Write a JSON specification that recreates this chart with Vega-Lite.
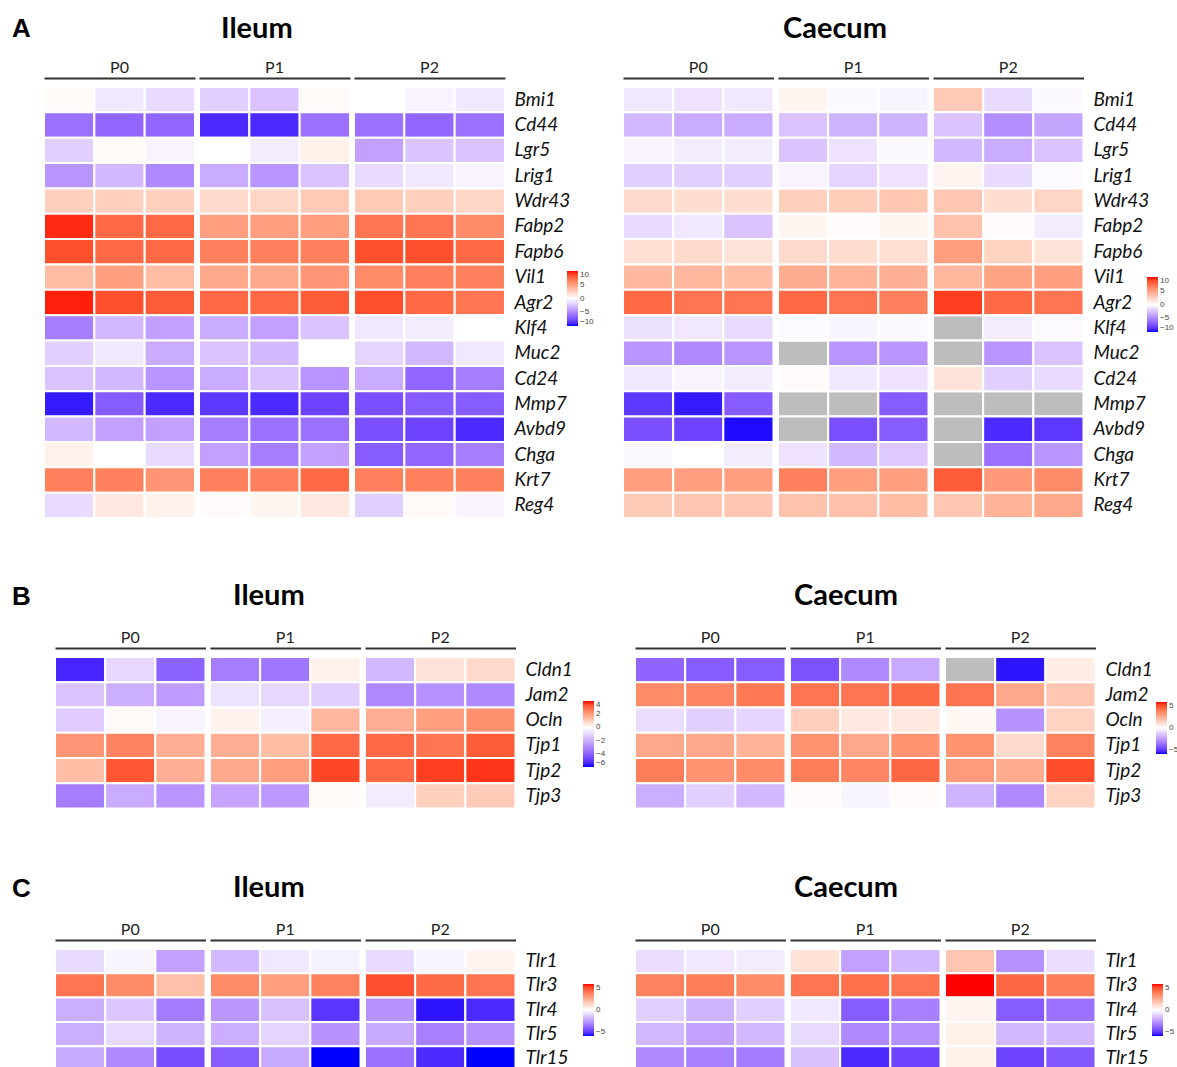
{
 "$schema": "https://vega.github.io/schema/vega-lite/v6.json",
 "padding": {"left": 12, "top": 15, "right": 0, "bottom": 0},
 "background": "white",
 "config": {
  "view": {"stroke": null},
  "font": "Lato",
  "header": {"labelFont": "Lato", "labelFontSize": 16, "labelColor": "#222", "title": null, "labelPadding": 2},
  "legend": {"labelFont": "Liberation Sans", "labelFontSize": 8, "labelColor": "#444", "gradientStrokeWidth": 0, "labelOffset": 2, "title": null, "direction": "vertical", "gradientThickness": 11}
 },
 "datasets": {
  "aI": [
   {"g":"Bmi1","s":"P0","r":"1","v":0.3},{"g":"Bmi1","s":"P0","r":"2","v":-1},{"g":"Bmi1","s":"P0","r":"3","v":-1.5},{"g":"Bmi1","s":"P1","r":"1","v":-2},{"g":"Bmi1","s":"P1","r":"2","v":-2.5},{"g":"Bmi1","s":"P1","r":"3","v":0.3},{"g":"Bmi1","s":"P2","r":"1","v":0},{"g":"Bmi1","s":"P2","r":"2","v":-0.5},{"g":"Bmi1","s":"P2","r":"3","v":-1},
   {"g":"Cd44","s":"P0","r":"1","v":-6},{"g":"Cd44","s":"P0","r":"2","v":-6.5},{"g":"Cd44","s":"P0","r":"3","v":-6.5},{"g":"Cd44","s":"P1","r":"1","v":-9},{"g":"Cd44","s":"P1","r":"2","v":-9},{"g":"Cd44","s":"P1","r":"3","v":-6},{"g":"Cd44","s":"P2","r":"1","v":-6},{"g":"Cd44","s":"P2","r":"2","v":-6.5},{"g":"Cd44","s":"P2","r":"3","v":-6},
   {"g":"Lgr5","s":"P0","r":"1","v":-2},{"g":"Lgr5","s":"P0","r":"2","v":0.3},{"g":"Lgr5","s":"P0","r":"3","v":-0.5},{"g":"Lgr5","s":"P1","r":"1","v":0},{"g":"Lgr5","s":"P1","r":"2","v":-0.8},{"g":"Lgr5","s":"P1","r":"3","v":0.8},{"g":"Lgr5","s":"P2","r":"1","v":-4},{"g":"Lgr5","s":"P2","r":"2","v":-2.5},{"g":"Lgr5","s":"P2","r":"3","v":-2.5},
   {"g":"Lrig1","s":"P0","r":"1","v":-4.5},{"g":"Lrig1","s":"P0","r":"2","v":-3},{"g":"Lrig1","s":"P0","r":"3","v":-5},{"g":"Lrig1","s":"P1","r":"1","v":-3.5},{"g":"Lrig1","s":"P1","r":"2","v":-4.5},{"g":"Lrig1","s":"P1","r":"3","v":-2.5},{"g":"Lrig1","s":"P2","r":"1","v":-1.5},{"g":"Lrig1","s":"P2","r":"2","v":-1},{"g":"Lrig1","s":"P2","r":"3","v":-0.5},
   {"g":"Wdr43","s":"P0","r":"1","v":2.5},{"g":"Wdr43","s":"P0","r":"2","v":2.5},{"g":"Wdr43","s":"P0","r":"3","v":2.5},{"g":"Wdr43","s":"P1","r":"1","v":2},{"g":"Wdr43","s":"P1","r":"2","v":2.2},{"g":"Wdr43","s":"P1","r":"3","v":2.8},{"g":"Wdr43","s":"P2","r":"1","v":2.8},{"g":"Wdr43","s":"P2","r":"2","v":2.5},{"g":"Wdr43","s":"P2","r":"3","v":2.2},
   {"g":"Fabp2","s":"P0","r":"1","v":9.5},{"g":"Fabp2","s":"P0","r":"2","v":7.5},{"g":"Fabp2","s":"P0","r":"3","v":7.5},{"g":"Fabp2","s":"P1","r":"1","v":5},{"g":"Fabp2","s":"P1","r":"2","v":5},{"g":"Fabp2","s":"P1","r":"3","v":5},{"g":"Fabp2","s":"P2","r":"1","v":7},{"g":"Fabp2","s":"P2","r":"2","v":7},{"g":"Fabp2","s":"P2","r":"3","v":6},
   {"g":"Fapb6","s":"P0","r":"1","v":8.5},{"g":"Fapb6","s":"P0","r":"2","v":7.5},{"g":"Fapb6","s":"P0","r":"3","v":7.5},{"g":"Fapb6","s":"P1","r":"1","v":6.5},{"g":"Fapb6","s":"P1","r":"2","v":6.5},{"g":"Fapb6","s":"P1","r":"3","v":6.5},{"g":"Fapb6","s":"P2","r":"1","v":8.5},{"g":"Fapb6","s":"P2","r":"2","v":8.5},{"g":"Fapb6","s":"P2","r":"3","v":7.5},
   {"g":"Vil1","s":"P0","r":"1","v":3.5},{"g":"Vil1","s":"P0","r":"2","v":5},{"g":"Vil1","s":"P0","r":"3","v":3.5},{"g":"Vil1","s":"P1","r":"1","v":4.5},{"g":"Vil1","s":"P1","r":"2","v":4.5},{"g":"Vil1","s":"P1","r":"3","v":5.5},{"g":"Vil1","s":"P2","r":"1","v":6},{"g":"Vil1","s":"P2","r":"2","v":6.5},{"g":"Vil1","s":"P2","r":"3","v":6.5},
   {"g":"Agr2","s":"P0","r":"1","v":9.7},{"g":"Agr2","s":"P0","r":"2","v":8.5},{"g":"Agr2","s":"P0","r":"3","v":8},{"g":"Agr2","s":"P1","r":"1","v":7.5},{"g":"Agr2","s":"P1","r":"2","v":7.5},{"g":"Agr2","s":"P1","r":"3","v":8},{"g":"Agr2","s":"P2","r":"1","v":8.5},{"g":"Agr2","s":"P2","r":"2","v":7.5},{"g":"Agr2","s":"P2","r":"3","v":7},
   {"g":"Klf4","s":"P0","r":"1","v":-5.5},{"g":"Klf4","s":"P0","r":"2","v":-3},{"g":"Klf4","s":"P0","r":"3","v":-4},{"g":"Klf4","s":"P1","r":"1","v":-3.5},{"g":"Klf4","s":"P1","r":"2","v":-4},{"g":"Klf4","s":"P1","r":"3","v":-2.5},{"g":"Klf4","s":"P2","r":"1","v":-1},{"g":"Klf4","s":"P2","r":"2","v":-0.8},{"g":"Klf4","s":"P2","r":"3","v":0},
   {"g":"Muc2","s":"P0","r":"1","v":-2},{"g":"Muc2","s":"P0","r":"2","v":-1},{"g":"Muc2","s":"P0","r":"3","v":-3.5},{"g":"Muc2","s":"P1","r":"1","v":-2.5},{"g":"Muc2","s":"P1","r":"2","v":-3},{"g":"Muc2","s":"P1","r":"3","v":0},{"g":"Muc2","s":"P2","r":"1","v":-1.8},{"g":"Muc2","s":"P2","r":"2","v":-3},{"g":"Muc2","s":"P2","r":"3","v":-1},
   {"g":"Cd24","s":"P0","r":"1","v":-2.5},{"g":"Cd24","s":"P0","r":"2","v":-3},{"g":"Cd24","s":"P0","r":"3","v":-4.5},{"g":"Cd24","s":"P1","r":"1","v":-3.5},{"g":"Cd24","s":"P1","r":"2","v":-2.5},{"g":"Cd24","s":"P1","r":"3","v":-4.5},{"g":"Cd24","s":"P2","r":"1","v":-3.5},{"g":"Cd24","s":"P2","r":"2","v":-6.5},{"g":"Cd24","s":"P2","r":"3","v":-5.5},
   {"g":"Mmp7","s":"P0","r":"1","v":-9.5},{"g":"Mmp7","s":"P0","r":"2","v":-7},{"g":"Mmp7","s":"P0","r":"3","v":-9},{"g":"Mmp7","s":"P1","r":"1","v":-8.5},{"g":"Mmp7","s":"P1","r":"2","v":-9},{"g":"Mmp7","s":"P1","r":"3","v":-8},{"g":"Mmp7","s":"P2","r":"1","v":-7.5},{"g":"Mmp7","s":"P2","r":"2","v":-7},{"g":"Mmp7","s":"P2","r":"3","v":-7},
   {"g":"Avbd9","s":"P0","r":"1","v":-3},{"g":"Avbd9","s":"P0","r":"2","v":-4},{"g":"Avbd9","s":"P0","r":"3","v":-4},{"g":"Avbd9","s":"P1","r":"1","v":-5.5},{"g":"Avbd9","s":"P1","r":"2","v":-6},{"g":"Avbd9","s":"P1","r":"3","v":-6},{"g":"Avbd9","s":"P2","r":"1","v":-7.5},{"g":"Avbd9","s":"P2","r":"2","v":-8},{"g":"Avbd9","s":"P2","r":"3","v":-9},
   {"g":"Chga","s":"P0","r":"1","v":0.7},{"g":"Chga","s":"P0","r":"2","v":0},{"g":"Chga","s":"P0","r":"3","v":-1.5},{"g":"Chga","s":"P1","r":"1","v":-4},{"g":"Chga","s":"P1","r":"2","v":-5.5},{"g":"Chga","s":"P1","r":"3","v":-4},{"g":"Chga","s":"P2","r":"1","v":-7},{"g":"Chga","s":"P2","r":"2","v":-6.5},{"g":"Chga","s":"P2","r":"3","v":-5.5},
   {"g":"Krt7","s":"P0","r":"1","v":6.5},{"g":"Krt7","s":"P0","r":"2","v":6.5},{"g":"Krt7","s":"P0","r":"3","v":5.5},{"g":"Krt7","s":"P1","r":"1","v":6.5},{"g":"Krt7","s":"P1","r":"2","v":6.5},{"g":"Krt7","s":"P1","r":"3","v":7.5},{"g":"Krt7","s":"P2","r":"1","v":6.5},{"g":"Krt7","s":"P2","r":"2","v":6.5},{"g":"Krt7","s":"P2","r":"3","v":6.5},
   {"g":"Reg4","s":"P0","r":"1","v":-1.5},{"g":"Reg4","s":"P0","r":"2","v":1.2},{"g":"Reg4","s":"P0","r":"3","v":0.7},{"g":"Reg4","s":"P1","r":"1","v":0.2},{"g":"Reg4","s":"P1","r":"2","v":0.5},{"g":"Reg4","s":"P1","r":"3","v":1.2},{"g":"Reg4","s":"P2","r":"1","v":-2},{"g":"Reg4","s":"P2","r":"2","v":0.3},{"g":"Reg4","s":"P2","r":"3","v":-0.5}
  ],
  "aC": [
   {"g":"Bmi1","s":"P0","r":"1","v":-1},{"g":"Bmi1","s":"P0","r":"2","v":-1.2},{"g":"Bmi1","s":"P0","r":"3","v":-1},{"g":"Bmi1","s":"P1","r":"1","v":0.5},{"g":"Bmi1","s":"P1","r":"2","v":-0.3},{"g":"Bmi1","s":"P1","r":"3","v":-0.4},{"g":"Bmi1","s":"P2","r":"1","v":2.8},{"g":"Bmi1","s":"P2","r":"2","v":-1.5},{"g":"Bmi1","s":"P2","r":"3","v":-0.3},
   {"g":"Cd44","s":"P0","r":"1","v":-3},{"g":"Cd44","s":"P0","r":"2","v":-3.5},{"g":"Cd44","s":"P0","r":"3","v":-3.5},{"g":"Cd44","s":"P1","r":"1","v":-2.5},{"g":"Cd44","s":"P1","r":"2","v":-3.2},{"g":"Cd44","s":"P1","r":"3","v":-3.2},{"g":"Cd44","s":"P2","r":"1","v":-2.5},{"g":"Cd44","s":"P2","r":"2","v":-4.8},{"g":"Cd44","s":"P2","r":"3","v":-3.8},
   {"g":"Lgr5","s":"P0","r":"1","v":-0.5},{"g":"Lgr5","s":"P0","r":"2","v":-0.8},{"g":"Lgr5","s":"P0","r":"3","v":-0.8},{"g":"Lgr5","s":"P1","r":"1","v":-2.5},{"g":"Lgr5","s":"P1","r":"2","v":-1.2},{"g":"Lgr5","s":"P1","r":"3","v":-0.3},{"g":"Lgr5","s":"P2","r":"1","v":-3},{"g":"Lgr5","s":"P2","r":"2","v":-3.5},{"g":"Lgr5","s":"P2","r":"3","v":-2.5},
   {"g":"Lrig1","s":"P0","r":"1","v":-2},{"g":"Lrig1","s":"P0","r":"2","v":-2},{"g":"Lrig1","s":"P0","r":"3","v":-2},{"g":"Lrig1","s":"P1","r":"1","v":-0.5},{"g":"Lrig1","s":"P1","r":"2","v":-1.8},{"g":"Lrig1","s":"P1","r":"3","v":-1.2},{"g":"Lrig1","s":"P2","r":"1","v":0.6},{"g":"Lrig1","s":"P2","r":"2","v":-1.5},{"g":"Lrig1","s":"P2","r":"3","v":-0.2},
   {"g":"Wdr43","s":"P0","r":"1","v":2},{"g":"Wdr43","s":"P0","r":"2","v":1.8},{"g":"Wdr43","s":"P0","r":"3","v":1.8},{"g":"Wdr43","s":"P1","r":"1","v":2.5},{"g":"Wdr43","s":"P1","r":"2","v":2.7},{"g":"Wdr43","s":"P1","r":"3","v":3},{"g":"Wdr43","s":"P2","r":"1","v":3},{"g":"Wdr43","s":"P2","r":"2","v":1.8},{"g":"Wdr43","s":"P2","r":"3","v":2.2},
   {"g":"Fabp2","s":"P0","r":"1","v":-1.5},{"g":"Fabp2","s":"P0","r":"2","v":-1},{"g":"Fabp2","s":"P0","r":"3","v":-2.5},{"g":"Fabp2","s":"P1","r":"1","v":0.5},{"g":"Fabp2","s":"P1","r":"2","v":0.2},{"g":"Fabp2","s":"P1","r":"3","v":0.5},{"g":"Fabp2","s":"P2","r":"1","v":3.2},{"g":"Fabp2","s":"P2","r":"2","v":0.2},{"g":"Fabp2","s":"P2","r":"3","v":-0.8},
   {"g":"Fapb6","s":"P0","r":"1","v":1.7},{"g":"Fapb6","s":"P0","r":"2","v":2},{"g":"Fapb6","s":"P0","r":"3","v":1.5},{"g":"Fapb6","s":"P1","r":"1","v":2},{"g":"Fapb6","s":"P1","r":"2","v":1.8},{"g":"Fapb6","s":"P1","r":"3","v":1.7},{"g":"Fapb6","s":"P2","r":"1","v":5},{"g":"Fapb6","s":"P2","r":"2","v":2.3},{"g":"Fapb6","s":"P2","r":"3","v":1.5},
   {"g":"Vil1","s":"P0","r":"1","v":3.7},{"g":"Vil1","s":"P0","r":"2","v":3.8},{"g":"Vil1","s":"P0","r":"3","v":3.5},{"g":"Vil1","s":"P1","r":"1","v":4.3},{"g":"Vil1","s":"P1","r":"2","v":4},{"g":"Vil1","s":"P1","r":"3","v":4.2},{"g":"Vil1","s":"P2","r":"1","v":3.8},{"g":"Vil1","s":"P2","r":"2","v":4.8},{"g":"Vil1","s":"P2","r":"3","v":5},
   {"g":"Agr2","s":"P0","r":"1","v":7.5},{"g":"Agr2","s":"P0","r":"2","v":7},{"g":"Agr2","s":"P0","r":"3","v":7},{"g":"Agr2","s":"P1","r":"1","v":7.5},{"g":"Agr2","s":"P1","r":"2","v":7},{"g":"Agr2","s":"P1","r":"3","v":6.5},{"g":"Agr2","s":"P2","r":"1","v":9},{"g":"Agr2","s":"P2","r":"2","v":7.5},{"g":"Agr2","s":"P2","r":"3","v":7},
   {"g":"Klf4","s":"P0","r":"1","v":-1.3},{"g":"Klf4","s":"P0","r":"2","v":-1},{"g":"Klf4","s":"P0","r":"3","v":-1.5},{"g":"Klf4","s":"P1","r":"1","v":-0.2},{"g":"Klf4","s":"P1","r":"2","v":-0.4},{"g":"Klf4","s":"P1","r":"3","v":-0.3},{"g":"Klf4","s":"P2","r":"1","v":null},{"g":"Klf4","s":"P2","r":"2","v":-0.8},{"g":"Klf4","s":"P2","r":"3","v":-0.2},
   {"g":"Muc2","s":"P0","r":"1","v":-4.5},{"g":"Muc2","s":"P0","r":"2","v":-5},{"g":"Muc2","s":"P0","r":"3","v":-4.5},{"g":"Muc2","s":"P1","r":"1","v":null},{"g":"Muc2","s":"P1","r":"2","v":-4.5},{"g":"Muc2","s":"P1","r":"3","v":-4.5},{"g":"Muc2","s":"P2","r":"1","v":null},{"g":"Muc2","s":"P2","r":"2","v":-4.5},{"g":"Muc2","s":"P2","r":"3","v":-2.5},
   {"g":"Cd24","s":"P0","r":"1","v":-1},{"g":"Cd24","s":"P0","r":"2","v":-0.5},{"g":"Cd24","s":"P0","r":"3","v":-0.8},{"g":"Cd24","s":"P1","r":"1","v":0.2},{"g":"Cd24","s":"P1","r":"2","v":-1},{"g":"Cd24","s":"P1","r":"3","v":-1.2},{"g":"Cd24","s":"P2","r":"1","v":1.5},{"g":"Cd24","s":"P2","r":"2","v":-2},{"g":"Cd24","s":"P2","r":"3","v":-1.5},
   {"g":"Mmp7","s":"P0","r":"1","v":-8.5},{"g":"Mmp7","s":"P0","r":"2","v":-9.5},{"g":"Mmp7","s":"P0","r":"3","v":-7},{"g":"Mmp7","s":"P1","r":"1","v":null},{"g":"Mmp7","s":"P1","r":"2","v":null},{"g":"Mmp7","s":"P1","r":"3","v":-7},{"g":"Mmp7","s":"P2","r":"1","v":null},{"g":"Mmp7","s":"P2","r":"2","v":null},{"g":"Mmp7","s":"P2","r":"3","v":null},
   {"g":"Avbd9","s":"P0","r":"1","v":-7.5},{"g":"Avbd9","s":"P0","r":"2","v":-8},{"g":"Avbd9","s":"P0","r":"3","v":-9.8},{"g":"Avbd9","s":"P1","r":"1","v":null},{"g":"Avbd9","s":"P1","r":"2","v":-7.5},{"g":"Avbd9","s":"P1","r":"3","v":-7},{"g":"Avbd9","s":"P2","r":"1","v":null},{"g":"Avbd9","s":"P2","r":"2","v":-9},{"g":"Avbd9","s":"P2","r":"3","v":-8.5},
   {"g":"Chga","s":"P0","r":"1","v":-0.3},{"g":"Chga","s":"P0","r":"2","v":0},{"g":"Chga","s":"P0","r":"3","v":-0.8},{"g":"Chga","s":"P1","r":"1","v":-1.2},{"g":"Chga","s":"P1","r":"2","v":-3},{"g":"Chga","s":"P1","r":"3","v":-2.3},{"g":"Chga","s":"P2","r":"1","v":null},{"g":"Chga","s":"P2","r":"2","v":-6},{"g":"Chga","s":"P2","r":"3","v":-4.5},
   {"g":"Krt7","s":"P0","r":"1","v":5},{"g":"Krt7","s":"P0","r":"2","v":5},{"g":"Krt7","s":"P0","r":"3","v":5},{"g":"Krt7","s":"P1","r":"1","v":6.5},{"g":"Krt7","s":"P1","r":"2","v":5},{"g":"Krt7","s":"P1","r":"3","v":5},{"g":"Krt7","s":"P2","r":"1","v":8},{"g":"Krt7","s":"P2","r":"2","v":5.3},{"g":"Krt7","s":"P2","r":"3","v":6},
   {"g":"Reg4","s":"P0","r":"1","v":2.8},{"g":"Reg4","s":"P0","r":"2","v":3},{"g":"Reg4","s":"P0","r":"3","v":3},{"g":"Reg4","s":"P1","r":"1","v":3.2},{"g":"Reg4","s":"P1","r":"2","v":3.3},{"g":"Reg4","s":"P1","r":"3","v":3.5},{"g":"Reg4","s":"P2","r":"1","v":3},{"g":"Reg4","s":"P2","r":"2","v":4},{"g":"Reg4","s":"P2","r":"3","v":4.5}
  ],
  "bI": [
   {"g":"Cldn1","s":"P0","r":"1","v":-5.5},{"g":"Cldn1","s":"P0","r":"2","v":-1},{"g":"Cldn1","s":"P0","r":"3","v":-4},{"g":"Cldn1","s":"P1","r":"1","v":-3.3},{"g":"Cldn1","s":"P1","r":"2","v":-3.5},{"g":"Cldn1","s":"P1","r":"3","v":0.3},{"g":"Cldn1","s":"P2","r":"1","v":-1.8},{"g":"Cldn1","s":"P2","r":"2","v":0.6},{"g":"Cldn1","s":"P2","r":"3","v":0.8},
   {"g":"Jam2","s":"P0","r":"1","v":-1.5},{"g":"Jam2","s":"P0","r":"2","v":-2},{"g":"Jam2","s":"P0","r":"3","v":-2.5},{"g":"Jam2","s":"P1","r":"1","v":-0.7},{"g":"Jam2","s":"P1","r":"2","v":-1},{"g":"Jam2","s":"P1","r":"3","v":-1.2},{"g":"Jam2","s":"P2","r":"1","v":-3},{"g":"Jam2","s":"P2","r":"2","v":-2.8},{"g":"Jam2","s":"P2","r":"3","v":-3},
   {"g":"Ocln","s":"P0","r":"1","v":-1.3},{"g":"Ocln","s":"P0","r":"2","v":0.1},{"g":"Ocln","s":"P0","r":"3","v":-0.3},{"g":"Ocln","s":"P1","r":"1","v":0.3},{"g":"Ocln","s":"P1","r":"2","v":-0.4},{"g":"Ocln","s":"P1","r":"3","v":1.5},{"g":"Ocln","s":"P2","r":"1","v":1.7},{"g":"Ocln","s":"P2","r":"2","v":2},{"g":"Ocln","s":"P2","r":"3","v":2.3},
   {"g":"Tjp1","s":"P0","r":"1","v":2.2},{"g":"Tjp1","s":"P0","r":"2","v":2.5},{"g":"Tjp1","s":"P0","r":"3","v":1.7},{"g":"Tjp1","s":"P1","r":"1","v":1.7},{"g":"Tjp1","s":"P1","r":"2","v":1.4},{"g":"Tjp1","s":"P1","r":"3","v":3},{"g":"Tjp1","s":"P2","r":"1","v":3},{"g":"Tjp1","s":"P2","r":"2","v":2.8},{"g":"Tjp1","s":"P2","r":"3","v":3.2},
   {"g":"Tjp2","s":"P0","r":"1","v":1.4},{"g":"Tjp2","s":"P0","r":"2","v":3.3},{"g":"Tjp2","s":"P0","r":"3","v":1.7},{"g":"Tjp2","s":"P1","r":"1","v":1.8},{"g":"Tjp2","s":"P1","r":"2","v":2},{"g":"Tjp2","s":"P1","r":"3","v":3.5},{"g":"Tjp2","s":"P2","r":"1","v":3},{"g":"Tjp2","s":"P2","r":"2","v":3.6},{"g":"Tjp2","s":"P2","r":"3","v":3.7},
   {"g":"Tjp3","s":"P0","r":"1","v":-3.3},{"g":"Tjp3","s":"P0","r":"2","v":-2.1},{"g":"Tjp3","s":"P0","r":"3","v":-2.7},{"g":"Tjp3","s":"P1","r":"1","v":-2.3},{"g":"Tjp3","s":"P1","r":"2","v":-2.6},{"g":"Tjp3","s":"P1","r":"3","v":0.1},{"g":"Tjp3","s":"P2","r":"1","v":-0.5},{"g":"Tjp3","s":"P2","r":"2","v":1},{"g":"Tjp3","s":"P2","r":"3","v":1.1}
  ],
  "bC": [
   {"g":"Cldn1","s":"P0","r":"1","v":-3.3},{"g":"Cldn1","s":"P0","r":"2","v":-3.5},{"g":"Cldn1","s":"P0","r":"3","v":-3.5},{"g":"Cldn1","s":"P1","r":"1","v":-3.7},{"g":"Cldn1","s":"P1","r":"2","v":-2.5},{"g":"Cldn1","s":"P1","r":"3","v":-1.8},{"g":"Cldn1","s":"P2","r":"1","v":null},{"g":"Cldn1","s":"P2","r":"2","v":-4.8},{"g":"Cldn1","s":"P2","r":"3","v":0.5},
   {"g":"Jam2","s":"P0","r":"1","v":3},{"g":"Jam2","s":"P0","r":"2","v":3.1},{"g":"Jam2","s":"P0","r":"3","v":3.4},{"g":"Jam2","s":"P1","r":"1","v":3.5},{"g":"Jam2","s":"P1","r":"2","v":3.5},{"g":"Jam2","s":"P1","r":"3","v":3.7},{"g":"Jam2","s":"P2","r":"1","v":3.5},{"g":"Jam2","s":"P2","r":"2","v":2.3},{"g":"Jam2","s":"P2","r":"3","v":1.5},
   {"g":"Ocln","s":"P0","r":"1","v":-0.7},{"g":"Ocln","s":"P0","r":"2","v":-1},{"g":"Ocln","s":"P0","r":"3","v":-0.9},{"g":"Ocln","s":"P1","r":"1","v":1.3},{"g":"Ocln","s":"P1","r":"2","v":0.6},{"g":"Ocln","s":"P1","r":"3","v":0.6},{"g":"Ocln","s":"P2","r":"1","v":0.2},{"g":"Ocln","s":"P2","r":"2","v":-2.3},{"g":"Ocln","s":"P2","r":"3","v":1.2},
   {"g":"Tjp1","s":"P0","r":"1","v":2.3},{"g":"Tjp1","s":"P0","r":"2","v":2.3},{"g":"Tjp1","s":"P0","r":"3","v":2},{"g":"Tjp1","s":"P1","r":"1","v":2.8},{"g":"Tjp1","s":"P1","r":"2","v":2.3},{"g":"Tjp1","s":"P1","r":"3","v":2.8},{"g":"Tjp1","s":"P2","r":"1","v":2.8},{"g":"Tjp1","s":"P2","r":"2","v":1},{"g":"Tjp1","s":"P2","r":"3","v":3.2},
   {"g":"Tjp2","s":"P0","r":"1","v":3.3},{"g":"Tjp2","s":"P0","r":"2","v":2.8},{"g":"Tjp2","s":"P0","r":"3","v":3},{"g":"Tjp2","s":"P1","r":"1","v":3.3},{"g":"Tjp2","s":"P1","r":"2","v":3.1},{"g":"Tjp2","s":"P1","r":"3","v":3.8},{"g":"Tjp2","s":"P2","r":"1","v":2.6},{"g":"Tjp2","s":"P2","r":"2","v":2.2},{"g":"Tjp2","s":"P2","r":"3","v":4.3},
   {"g":"Tjp3","s":"P0","r":"1","v":-1.7},{"g":"Tjp3","s":"P0","r":"2","v":-1},{"g":"Tjp3","s":"P0","r":"3","v":-1.5},{"g":"Tjp3","s":"P1","r":"1","v":0.1},{"g":"Tjp3","s":"P1","r":"2","v":-0.2},{"g":"Tjp3","s":"P1","r":"3","v":0.1},{"g":"Tjp3","s":"P2","r":"1","v":-1.6},{"g":"Tjp3","s":"P2","r":"2","v":-2.5},{"g":"Tjp3","s":"P2","r":"3","v":1.2}
  ],
  "cI": [
   {"g":"Tlr1","s":"P0","r":"1","v":-0.8},{"g":"Tlr1","s":"P0","r":"2","v":-0.2},{"g":"Tlr1","s":"P0","r":"3","v":-2},{"g":"Tlr1","s":"P1","r":"1","v":-1.5},{"g":"Tlr1","s":"P1","r":"2","v":-0.5},{"g":"Tlr1","s":"P1","r":"3","v":-0.3},{"g":"Tlr1","s":"P2","r":"1","v":-0.8},{"g":"Tlr1","s":"P2","r":"2","v":-0.2},{"g":"Tlr1","s":"P2","r":"3","v":0.3},
   {"g":"Tlr3","s":"P0","r":"1","v":3.5},{"g":"Tlr3","s":"P0","r":"2","v":3},{"g":"Tlr3","s":"P0","r":"3","v":1.7},{"g":"Tlr3","s":"P1","r":"1","v":3},{"g":"Tlr3","s":"P1","r":"2","v":2.5},{"g":"Tlr3","s":"P1","r":"3","v":3.2},{"g":"Tlr3","s":"P2","r":"1","v":4.2},{"g":"Tlr3","s":"P2","r":"2","v":3.7},{"g":"Tlr3","s":"P2","r":"3","v":3.5},
   {"g":"Tlr4","s":"P0","r":"1","v":-1.7},{"g":"Tlr4","s":"P0","r":"2","v":-1.2},{"g":"Tlr4","s":"P0","r":"3","v":-2.8},{"g":"Tlr4","s":"P1","r":"1","v":-2.2},{"g":"Tlr4","s":"P1","r":"2","v":-1.3},{"g":"Tlr4","s":"P1","r":"3","v":-4.3},{"g":"Tlr4","s":"P2","r":"1","v":-2.3},{"g":"Tlr4","s":"P2","r":"2","v":-4.8},{"g":"Tlr4","s":"P2","r":"3","v":-4.5},
   {"g":"Tlr5","s":"P0","r":"1","v":-1.7},{"g":"Tlr5","s":"P0","r":"2","v":-0.8},{"g":"Tlr5","s":"P0","r":"3","v":-1.6},{"g":"Tlr5","s":"P1","r":"1","v":-1.7},{"g":"Tlr5","s":"P1","r":"2","v":-0.9},{"g":"Tlr5","s":"P1","r":"3","v":-2.3},{"g":"Tlr5","s":"P2","r":"1","v":-1.8},{"g":"Tlr5","s":"P2","r":"2","v":-2.7},{"g":"Tlr5","s":"P2","r":"3","v":-2.3},
   {"g":"Tlr15","s":"P0","r":"1","v":-1.8},{"g":"Tlr15","s":"P0","r":"2","v":-2.5},{"g":"Tlr15","s":"P0","r":"3","v":-3.8},{"g":"Tlr15","s":"P1","r":"1","v":-3.5},{"g":"Tlr15","s":"P1","r":"2","v":-1.8},{"g":"Tlr15","s":"P1","r":"3","v":-5},{"g":"Tlr15","s":"P2","r":"1","v":-3},{"g":"Tlr15","s":"P2","r":"2","v":-4.5},{"g":"Tlr15","s":"P2","r":"3","v":-5}
  ],
  "cC": [
   {"g":"Tlr1","s":"P0","r":"1","v":-0.7},{"g":"Tlr1","s":"P0","r":"2","v":-0.5},{"g":"Tlr1","s":"P0","r":"3","v":-0.4},{"g":"Tlr1","s":"P1","r":"1","v":0.8},{"g":"Tlr1","s":"P1","r":"2","v":-2},{"g":"Tlr1","s":"P1","r":"3","v":-1.5},{"g":"Tlr1","s":"P2","r":"1","v":1.5},{"g":"Tlr1","s":"P2","r":"2","v":-2.3},{"g":"Tlr1","s":"P2","r":"3","v":-0.7},
   {"g":"Tlr3","s":"P0","r":"1","v":3.2},{"g":"Tlr3","s":"P0","r":"2","v":3.3},{"g":"Tlr3","s":"P0","r":"3","v":3},{"g":"Tlr3","s":"P1","r":"1","v":3.5},{"g":"Tlr3","s":"P1","r":"2","v":3.6},{"g":"Tlr3","s":"P1","r":"3","v":3.5},{"g":"Tlr3","s":"P2","r":"1","v":5},{"g":"Tlr3","s":"P2","r":"2","v":3.8},{"g":"Tlr3","s":"P2","r":"3","v":3.3},
   {"g":"Tlr4","s":"P0","r":"1","v":-1},{"g":"Tlr4","s":"P0","r":"2","v":-1.6},{"g":"Tlr4","s":"P0","r":"3","v":-1},{"g":"Tlr4","s":"P1","r":"1","v":-0.5},{"g":"Tlr4","s":"P1","r":"2","v":-3.5},{"g":"Tlr4","s":"P1","r":"3","v":-2.7},{"g":"Tlr4","s":"P2","r":"1","v":0.3},{"g":"Tlr4","s":"P2","r":"2","v":-3.5},{"g":"Tlr4","s":"P2","r":"3","v":-3},
   {"g":"Tlr5","s":"P0","r":"1","v":-1.5},{"g":"Tlr5","s":"P0","r":"2","v":-2},{"g":"Tlr5","s":"P0","r":"3","v":-1.5},{"g":"Tlr5","s":"P1","r":"1","v":-0.8},{"g":"Tlr5","s":"P1","r":"2","v":-2.5},{"g":"Tlr5","s":"P1","r":"3","v":-2.3},{"g":"Tlr5","s":"P2","r":"1","v":0.4},{"g":"Tlr5","s":"P2","r":"2","v":-1.5},{"g":"Tlr5","s":"P2","r":"3","v":-1.5},
   {"g":"Tlr15","s":"P0","r":"1","v":-2.5},{"g":"Tlr15","s":"P0","r":"2","v":-2.7},{"g":"Tlr15","s":"P0","r":"3","v":-2.8},{"g":"Tlr15","s":"P1","r":"1","v":-1.3},{"g":"Tlr15","s":"P1","r":"2","v":-4.5},{"g":"Tlr15","s":"P1","r":"3","v":-4},{"g":"Tlr15","s":"P2","r":"1","v":0.4},{"g":"Tlr15","s":"P2","r":"2","v":-4},{"g":"Tlr15","s":"P2","r":"3","v":-3.6}
  ]
 },
 "spacing": 63,
 "resolve": {"scale": {"x": "independent", "y": "independent", "color": "independent"}, "legend": {"color": "independent"}},
 "vconcat": [
  {
   "spacing": 0,
   "resolve": {"scale": {"x": "independent", "y": "independent", "color": "independent"}, "legend": {"color": "independent"}},
   "hconcat": [
    {"width": 31, "height": 10, "data": {"values": []}, "mark": "point", "encoding": {},
     "title": {"text": "A", "anchor": "start", "frame": "group", "baseline": "alphabetic", "offset": 24, "font": "Liberation Sans", "fontSize": 26, "fontWeight": "bold"}},
    {
     "data": {"name": "aI"},
     "title": {"text": "Ileum", "font": "Lato", "fontSize": 29, "fontWeight": "bold", "anchor": "start", "dx": 178, "offset": 16},
     "facet": {"column": {"field": "s", "type": "nominal", "header": {"title": null}}},
     "spacing": 2,
     "spec": {
      "width": 151, "height": 431,
      "layer": [
       {"mark": {"type": "rect", "fill": "#bdbdbd", "stroke": "white", "strokeWidth": 2},
        "encoding": {
         "x": {"field": "r", "type": "nominal", "title": null, "axis": {"orient": "top", "labels": false, "ticks": false, "domain": true, "domainColor": "#333", "domainWidth": 2, "offset": 8, "title": null}},
         "y": {"field": "g", "type": "nominal", "title": null, "sort": ["Bmi1","Cd44","Lgr5","Lrig1","Wdr43","Fabp2","Fapb6","Vil1","Agr2","Klf4","Muc2","Cd24","Mmp7","Avbd9","Chga","Krt7","Reg4"], "axis": {"orient": "right", "domain": false, "ticks": false, "labelFont": "Lato", "labelFontStyle": "italic", "labelFontSize": 19, "labelColor": "#111", "labelPadding": 8}}
        }},
       {"transform": [{"filter": "isValid(datum.v)"}],
        "mark": {"type": "rect", "stroke": "white", "strokeWidth": 2},
        "encoding": {
         "x": {"field": "r", "type": "nominal"},
         "y": {"field": "g", "type": "nominal", "sort": ["Bmi1","Cd44","Lgr5","Lrig1","Wdr43","Fabp2","Fapb6","Vil1","Agr2","Klf4","Muc2","Cd24","Mmp7","Avbd9","Chga","Krt7","Reg4"]},
         "color": {"field": "v", "type": "quantitative", "scale": {"domain": [-10, 0, 10], "range": ["#0000ff", "#ffffff", "#ff0000"], "interpolate": "lab"},
          "legend": {"orient": "none", "legendX": 523, "legendY": 184, "gradientLength": 55, "values": [10, 5, 0, -5, -10]}}
        }}
      ]
     }
    },
    {"width": 28, "height": 10, "data": {"values": []}, "mark": "point", "encoding": {}},
    {
     "data": {"name": "aC"},
     "title": {"text": "Caecum", "font": "Lato", "fontSize": 29, "fontWeight": "bold", "anchor": "start", "dx": 161, "offset": 16},
     "facet": {"column": {"field": "s", "type": "nominal", "header": {"title": null}}},
     "spacing": 2,
     "spec": {
      "width": 150.5, "height": 431,
      "layer": [
       {"mark": {"type": "rect", "fill": "#bdbdbd", "stroke": "white", "strokeWidth": 2},
        "encoding": {
         "x": {"field": "r", "type": "nominal", "title": null, "axis": {"orient": "top", "labels": false, "ticks": false, "domain": true, "domainColor": "#333", "domainWidth": 2, "offset": 8, "title": null}},
         "y": {"field": "g", "type": "nominal", "title": null, "sort": ["Bmi1","Cd44","Lgr5","Lrig1","Wdr43","Fabp2","Fapb6","Vil1","Agr2","Klf4","Muc2","Cd24","Mmp7","Avbd9","Chga","Krt7","Reg4"], "axis": {"orient": "right", "domain": false, "ticks": false, "labelFont": "Lato", "labelFontStyle": "italic", "labelFontSize": 19, "labelColor": "#111", "labelPadding": 8}}
        }},
       {"transform": [{"filter": "isValid(datum.v)"}],
        "mark": {"type": "rect", "stroke": "white", "strokeWidth": 2},
        "encoding": {
         "x": {"field": "r", "type": "nominal"},
         "y": {"field": "g", "type": "nominal", "sort": ["Bmi1","Cd44","Lgr5","Lrig1","Wdr43","Fabp2","Fapb6","Vil1","Agr2","Klf4","Muc2","Cd24","Mmp7","Avbd9","Chga","Krt7","Reg4"]},
         "color": {"field": "v", "type": "quantitative", "scale": {"domain": [-10, 0, 10], "range": ["#0000ff", "#ffffff", "#ff0000"], "interpolate": "lab"},
          "legend": {"orient": "none", "legendX": 524, "legendY": 190, "gradientLength": 55, "values": [10, 5, 0, -5, -10]}}
        }}
      ]
     }
    }
   ]
  },
  {
   "spacing": 64,
   "resolve": {"scale": {"x": "independent", "y": "independent", "color": "independent"}, "legend": {"color": "independent"}},
   "vconcat": [
    {
     "spacing": 0,
     "resolve": {"scale": {"x": "independent", "y": "independent", "color": "independent"}, "legend": {"color": "independent"}},
     "hconcat": [
      {"width": 42, "height": 10, "data": {"values": []}, "mark": "point", "encoding": {},
       "title": {"text": "B", "anchor": "start", "frame": "group", "baseline": "alphabetic", "offset": 26, "font": "Liberation Sans", "fontSize": 26, "fontWeight": "bold"}},
      {
       "data": {"name": "bI"},
       "title": {"text": "Ileum", "font": "Lato", "fontSize": 29, "fontWeight": "bold", "anchor": "start", "dx": 179, "offset": 19},
       "facet": {"column": {"field": "s", "type": "nominal", "header": {"title": null}}},
       "spacing": 2,
       "spec": {
        "width": 150.5, "height": 151.5,
        "layer": [
         {"mark": {"type": "rect", "fill": "#bdbdbd", "stroke": "white", "strokeWidth": 2},
          "encoding": {
           "x": {"field": "r", "type": "nominal", "title": null, "axis": {"orient": "top", "labels": false, "ticks": false, "domain": true, "domainColor": "#333", "domainWidth": 2, "offset": 8, "title": null}},
           "y": {"field": "g", "type": "nominal", "title": null, "sort": ["Cldn1","Jam2","Ocln","Tjp1","Tjp2","Tjp3"], "axis": {"orient": "right", "domain": false, "ticks": false, "labelFont": "Lato", "labelFontStyle": "italic", "labelFontSize": 19, "labelColor": "#111", "labelPadding": 8}}
          }},
         {"transform": [{"filter": "isValid(datum.v)"}],
          "mark": {"type": "rect", "stroke": "white", "strokeWidth": 2},
          "encoding": {
           "x": {"field": "r", "type": "nominal"},
           "y": {"field": "g", "type": "nominal", "sort": ["Cldn1","Jam2","Ocln","Tjp1","Tjp2","Tjp3"]},
           "color": {"field": "v", "type": "quantitative", "scale": {"domain": [-6, 0, 4], "range": ["#0000ff", "#ffffff", "#ff0000"], "interpolate": "lab"},
            "legend": {"orient": "none", "legendX": 528, "legendY": 44, "gradientLength": 66, "values": [4, 2, 0, -2, -4, -6]}}
          }}
        ]
       }
      },
      {"width": 28, "height": 10, "data": {"values": []}, "mark": "point", "encoding": {}},
      {
       "data": {"name": "bC"},
       "title": {"text": "Caecum", "font": "Lato", "fontSize": 29, "fontWeight": "bold", "anchor": "start", "dx": 160, "offset": 19},
       "facet": {"column": {"field": "s", "type": "nominal", "header": {"title": null}}},
       "spacing": 2,
       "spec": {
        "width": 150.5, "height": 151.5,
        "layer": [
         {"mark": {"type": "rect", "fill": "#bdbdbd", "stroke": "white", "strokeWidth": 2},
          "encoding": {
           "x": {"field": "r", "type": "nominal", "title": null, "axis": {"orient": "top", "labels": false, "ticks": false, "domain": true, "domainColor": "#333", "domainWidth": 2, "offset": 8, "title": null}},
           "y": {"field": "g", "type": "nominal", "title": null, "sort": ["Cldn1","Jam2","Ocln","Tjp1","Tjp2","Tjp3"], "axis": {"orient": "right", "domain": false, "ticks": false, "labelFont": "Lato", "labelFontStyle": "italic", "labelFontSize": 19, "labelColor": "#111", "labelPadding": 8}}
          }},
         {"transform": [{"filter": "isValid(datum.v)"}],
          "mark": {"type": "rect", "stroke": "white", "strokeWidth": 2},
          "encoding": {
           "x": {"field": "r", "type": "nominal"},
           "y": {"field": "g", "type": "nominal", "sort": ["Cldn1","Jam2","Ocln","Tjp1","Tjp2","Tjp3"]},
           "color": {"field": "v", "type": "quantitative", "scale": {"domain": [-5, 0, 5], "range": ["#0000ff", "#ffffff", "#ff0000"], "interpolate": "lab"},
            "legend": {"orient": "none", "legendX": 521, "legendY": 45, "gradientLength": 52, "values": [5, 0, -5]}}
          }}
        ]
       }
      }
     ]
    },
    {
     "spacing": 0,
     "resolve": {"scale": {"x": "independent", "y": "independent", "color": "independent"}, "legend": {"color": "independent"}},
     "hconcat": [
      {"width": 42, "height": 10, "data": {"values": []}, "mark": "point", "encoding": {},
       "title": {"text": "C", "anchor": "start", "frame": "group", "baseline": "alphabetic", "offset": 26, "font": "Liberation Sans", "fontSize": 26, "fontWeight": "bold"}},
      {
       "data": {"name": "cI"},
       "title": {"text": "Ileum", "font": "Lato", "fontSize": 29, "fontWeight": "bold", "anchor": "start", "dx": 179, "offset": 19},
       "facet": {"column": {"field": "s", "type": "nominal", "header": {"title": null}}},
       "spacing": 2,
       "spec": {
        "width": 150.5, "height": 121.5,
        "layer": [
         {"mark": {"type": "rect", "fill": "#bdbdbd", "stroke": "white", "strokeWidth": 2},
          "encoding": {
           "x": {"field": "r", "type": "nominal", "title": null, "axis": {"orient": "top", "labels": false, "ticks": false, "domain": true, "domainColor": "#333", "domainWidth": 2, "offset": 8, "title": null}},
           "y": {"field": "g", "type": "nominal", "title": null, "sort": ["Tlr1","Tlr3","Tlr4","Tlr5","Tlr15"], "axis": {"orient": "right", "domain": false, "ticks": false, "labelFont": "Lato", "labelFontStyle": "italic", "labelFontSize": 19, "labelColor": "#111", "labelPadding": 8}}
          }},
         {"transform": [{"filter": "isValid(datum.v)"}],
          "mark": {"type": "rect", "stroke": "white", "strokeWidth": 2},
          "encoding": {
           "x": {"field": "r", "type": "nominal"},
           "y": {"field": "g", "type": "nominal", "sort": ["Tlr1","Tlr3","Tlr4","Tlr5","Tlr15"]},
           "color": {"field": "v", "type": "quantitative", "scale": {"domain": [-5, 0, 5], "range": ["#0000ff", "#ffffff", "#ff0000"], "interpolate": "lab"},
            "legend": {"orient": "none", "legendX": 528, "legendY": 35, "gradientLength": 52, "values": [5, 0, -5]}}
          }}
        ]
       }
      },
      {"width": 28, "height": 10, "data": {"values": []}, "mark": "point", "encoding": {}},
      {
       "data": {"name": "cC"},
       "title": {"text": "Caecum", "font": "Lato", "fontSize": 29, "fontWeight": "bold", "anchor": "start", "dx": 160, "offset": 19},
       "facet": {"column": {"field": "s", "type": "nominal", "header": {"title": null}}},
       "spacing": 2,
       "spec": {
        "width": 150.5, "height": 121.5,
        "layer": [
         {"mark": {"type": "rect", "fill": "#bdbdbd", "stroke": "white", "strokeWidth": 2},
          "encoding": {
           "x": {"field": "r", "type": "nominal", "title": null, "axis": {"orient": "top", "labels": false, "ticks": false, "domain": true, "domainColor": "#333", "domainWidth": 2, "offset": 8, "title": null}},
           "y": {"field": "g", "type": "nominal", "title": null, "sort": ["Tlr1","Tlr3","Tlr4","Tlr5","Tlr15"], "axis": {"orient": "right", "domain": false, "ticks": false, "labelFont": "Lato", "labelFontStyle": "italic", "labelFontSize": 19, "labelColor": "#111", "labelPadding": 8}}
          }},
         {"transform": [{"filter": "isValid(datum.v)"}],
          "mark": {"type": "rect", "stroke": "white", "strokeWidth": 2},
          "encoding": {
           "x": {"field": "r", "type": "nominal"},
           "y": {"field": "g", "type": "nominal", "sort": ["Tlr1","Tlr3","Tlr4","Tlr5","Tlr15"]},
           "color": {"field": "v", "type": "quantitative", "scale": {"domain": [-5, 0, 5], "range": ["#0000ff", "#ffffff", "#ff0000"], "interpolate": "lab"},
            "legend": {"orient": "none", "legendX": 517, "legendY": 35, "gradientLength": 52, "values": [5, 0, -5]}}
          }}
        ]
       }
      }
     ]
    }
   ]
  }
 ]
}
